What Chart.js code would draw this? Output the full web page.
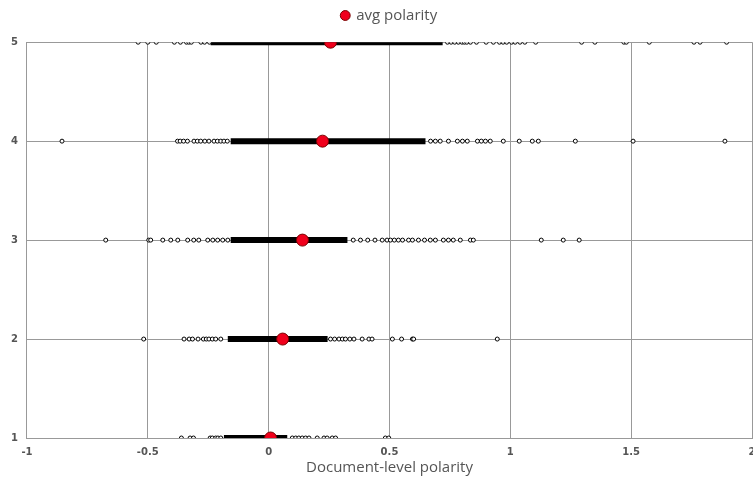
<!DOCTYPE html>
<html>
<head>
<meta charset="utf-8">
<script src="https://cdn.jsdelivr.net/npm/chart.js@4"></script>
<style>
  html, body { margin: 0; padding: 0; background: #fff; overflow: hidden; }
  #wrap { width: 780px; height: 482px; }
</style>
</head>
<body>
<div id="wrap"><canvas id="grafico" width="780" height="482"></canvas></div>
<script>
// Valoraciones (eje Y)
const ratings = [1, 2, 3, 4, 5];

// Polaridad media por valoración
const avgPolarity = [0.008, 0.058, 0.14, 0.223, 0.256];

// Tramo denso de cada fila (inicio / fin)
const denseStart = [-0.185, -0.169, -0.157, -0.157, -0.24];
const denseEnd = [0.077, 0.244, 0.326, 0.649, 0.72];

// Documentos sueltos fuera del tramo denso, por valoración
const polarity1 = [-0.361, -0.325, -0.311, -0.242, -0.233, -0.219, -0.21, -0.198,
  0.098, 0.112, 0.125, 0.139, 0.153, 0.167, 0.201, 0.229, 0.242, 0.263, 0.277, 0.483, 0.497];
const polarity2 = [-0.517, -0.35, -0.329, -0.315, -0.292, -0.27, -0.258, -0.247, -0.233, -0.219, -0.198,
  0.256, 0.273, 0.291, 0.305, 0.318, 0.336, 0.353, 0.387, 0.415, 0.428, 0.512, 0.55, 0.595, 0.6, 0.946];
const polarity3 = [-0.674, -0.496, -0.488, -0.438, -0.405, -0.376, -0.335, -0.31, -0.289, -0.252, -0.231, -0.211, -0.19, -0.169,
  0.35, 0.38, 0.41, 0.44, 0.47, 0.49, 0.504, 0.52, 0.537, 0.554, 0.579, 0.595, 0.62, 0.645, 0.669, 0.69,
  0.723, 0.744, 0.764, 0.793, 0.835, 0.847, 1.128, 1.219, 1.285];
const polarity4 = [-0.855, -0.377, -0.366, -0.352, -0.336, -0.309, -0.295, -0.281, -0.264, -0.247, -0.226, -0.212, -0.198, -0.185, -0.171,
  0.67, 0.69, 0.71, 0.744, 0.781, 0.802, 0.822, 0.864, 0.88, 0.897, 0.917, 0.971, 1.037, 1.091, 1.116, 1.269, 1.508, 1.888];
const polarity5 = [-0.54, -0.5, -0.465, -0.39, -0.365, -0.34, -0.33, -0.32, -0.28, -0.265, -0.245,
  0.74, 0.755, 0.77, 0.785, 0.8, 0.81, 0.82, 0.835, 0.86, 0.9, 0.93, 0.955, 0.97, 0.985, 1.005, 1.02, 1.04, 1.06, 1.105,
  1.295, 1.35, 1.47, 1.48, 1.575, 1.76, 1.785, 1.895];

const polarityRows = [polarity1, polarity2, polarity3, polarity4, polarity5];

// Puntos sueltos: círculos negros pequeños
const docPoints = [];
polarityRows.forEach((fila, i) => {
  fila.forEach((v) => docPoints.push({ x: v, y: ratings[i] }));
});

// Tramos densos dibujados como línea gruesa
const denseSets = ratings.map((r, i) => ({
  label: 'dense ' + r,
  data: [{ x: denseStart[i], y: r }, { x: denseEnd[i], y: r }],
  showLine: true,
  borderColor: '#000',
  borderWidth: 6,
  pointRadius: 0,
  order: 2
}));

const ctx = document.getElementById('grafico').getContext('2d');
const myChart = new Chart(ctx, {
  type: 'scatter',
  data: {
    datasets: [
      {
        label: 'avg polarity',
        data: ratings.map((r, i) => ({ x: avgPolarity[i], y: r })),
        backgroundColor: '#f0001c',
        borderColor: '#7a0000',
        borderWidth: 1,
        pointRadius: 6,
        order: 0
      },
      {
        label: 'docs',
        data: docPoints,
        backgroundColor: '#fff',
        borderColor: '#000',
        borderWidth: 1,
        pointRadius: 2,
        order: 1
      },
      ...denseSets
    ]
  },
  options: {
    responsive: false,
    animation: false,
    devicePixelRatio: 1,
    layout: { padding: { left: 2, right: 28, top: 0, bottom: 5 } },
    plugins: {
      tooltip: { enabled: false },
      legend: {
        position: 'top',
        fullSize: false,
        weight: 3000,
        labels: {
          filter: (item) => item.text === 'avg polarity',
          usePointStyle: true,
          pointStyle: 'circle',
          boxWidth: 7,
          boxHeight: 7,
          color: '#555',
          font: { family: 'Open Sans', size: 15 },
          padding: 8
        }
      },
      // título vacío: solo sirve de hueco entre la leyenda y el gráfico
      title: {
        display: true,
        text: '',
        font: { size: 1 },
        padding: { top: 0, bottom: 8 }
      }
    },
    scales: {
      x: {
        type: 'linear',
        min: -1,
        max: 2,
        ticks: {
          stepSize: 0.5,
          color: '#555',
          font: { family: 'DejaVu Sans', size: 10, weight: 'bold' },
          padding: 8,
          maxRotation: 0,
          callback: (v) => String(Number(v.toFixed(2)))
        },
        grid: { color: '#999', drawTicks: false },
        border: { color: '#999' },
        title: {
          display: true,
          text: 'Document-level polarity',
          color: '#555',
          font: { family: 'Open Sans', size: 15 },
          padding: { top: -7, bottom: 0 }
        }
      },
      y: {
        type: 'linear',
        min: 1,
        max: 5,
        ticks: {
          stepSize: 1,
          color: '#555',
          font: { family: 'DejaVu Sans', size: 10, weight: 'bold' },
          padding: 9
        },
        grid: { color: '#999', drawTicks: false },
        border: { color: '#999' }
      }
    }
  }
});
</script>
</body>
</html>
